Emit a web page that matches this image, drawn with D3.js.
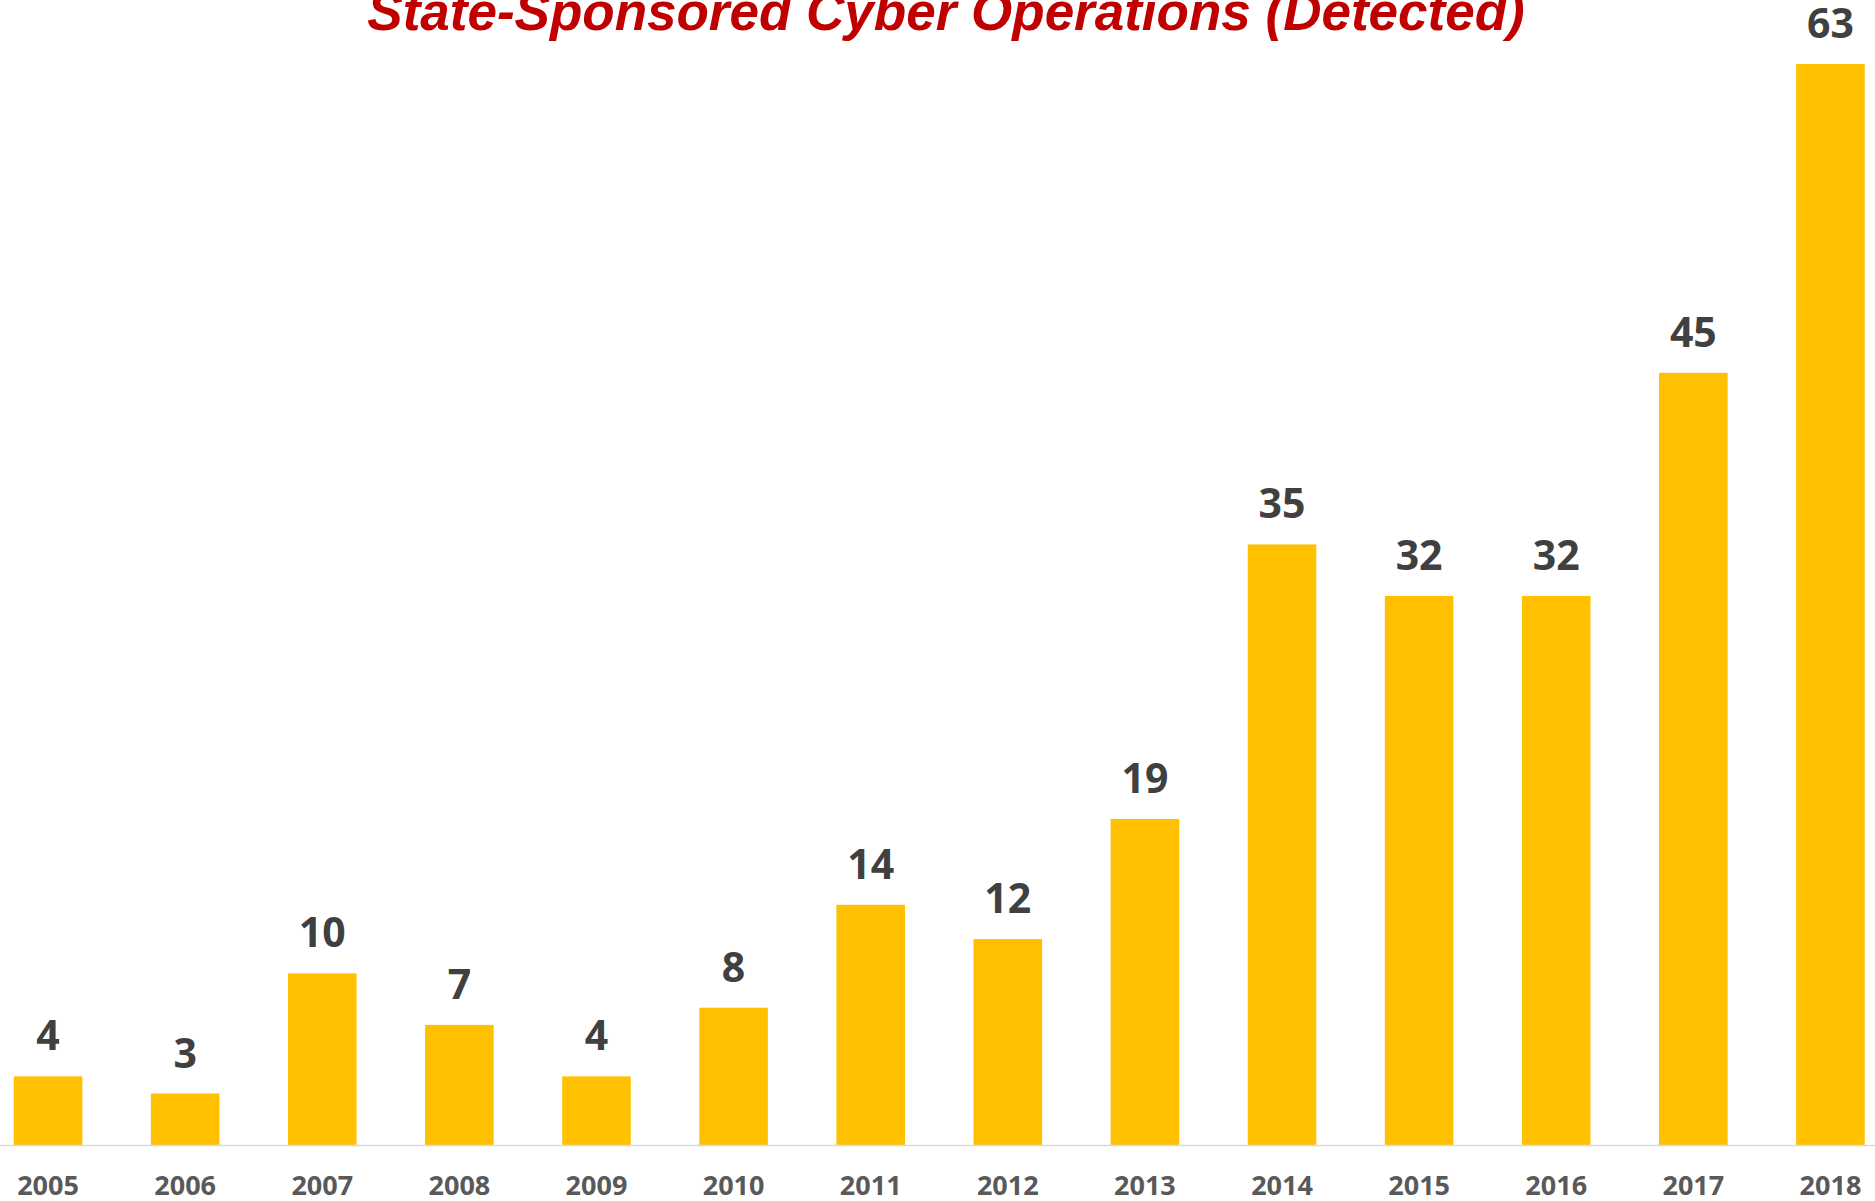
<!DOCTYPE html>
<html>
<head>
<meta charset="utf-8">
<script src="https://cdn.jsdelivr.net/npm/d3@7"></script>
<style>
  body { margin: 0; background: #fff; }
  svg { display: block; }
</style>
</head>
<body>
<svg id="chart" width="1875" height="1201"></svg>
<script>
// chart data
const years  = ['2005', '2006', '2007', '2008', '2009', '2010', '2011',
                '2012', '2013', '2014', '2015', '2016', '2017', '2018'];
const counts = [4, 3, 10, 7, 4, 8, 14, 12, 19, 35, 32, 32, 45, 63];
const title  = 'State-Sponsored Cyber Operations (Detected)';

const svg = d3.select('#chart');

const baseline = 1145;

// scales
const x = d3.scaleBand()
    .domain(years)
    .range([-20.5, 1899])
    .paddingInner(0.5)
    .paddingOuter(0.25);

const y = d3.scaleLinear()
    .domain([0, 63])
    .range([baseline, 64]);

// title (top is cut by the frame, as in the source)
svg.append('text')
    .attr('x', 946)
    .attr('y', 29.5)
    .attr('text-anchor', 'middle')
    .style('font-family', '"Liberation Sans", Arial, sans-serif')
    .style('font-weight', 'bold')
    .style('font-style', 'italic')
    .style('font-size', '53px')
    .style('fill', '#C00000')
    .text(title);

// bars
svg.append('g')
    .selectAll('rect')
    .data(counts)
    .join('rect')
    .attr('x', (d, i) => x(years[i]))
    .attr('y', (d) => y(d))
    .attr('width', x.bandwidth())
    .attr('height', (d) => baseline - y(d))
    .attr('fill', '#FFC000');

// value labels
svg.append('g')
    .selectAll('text')
    .data(counts)
    .join('text')
    .attr('x', (d, i) => x(years[i]) + x.bandwidth() / 2)
    .attr('y', (d) => y(d) - 26)
    .attr('text-anchor', 'middle')
    .style('font-family', '"Open Sans", sans-serif')
    .style('font-weight', 'bold')
    .style('font-size', '41px')
    .style('fill', '#404040')
    .text((d) => d);

// x axis
const axis = svg.append('g')
    .attr('transform', `translate(0, ${baseline})`)
    .call(d3.axisBottom(x).tickSize(0).tickPadding(31));

axis.select('.domain')
    .attr('d', 'M0,0.5H1875')
    .attr('stroke', '#d9d9d9')
    .attr('stroke-width', 1.5);

axis.selectAll('text')
    .style('font-family', '"Open Sans", sans-serif')
    .style('font-weight', 'bold')
    .style('font-size', '27px')
    .style('fill', '#595959');
</script>
</body>
</html>
